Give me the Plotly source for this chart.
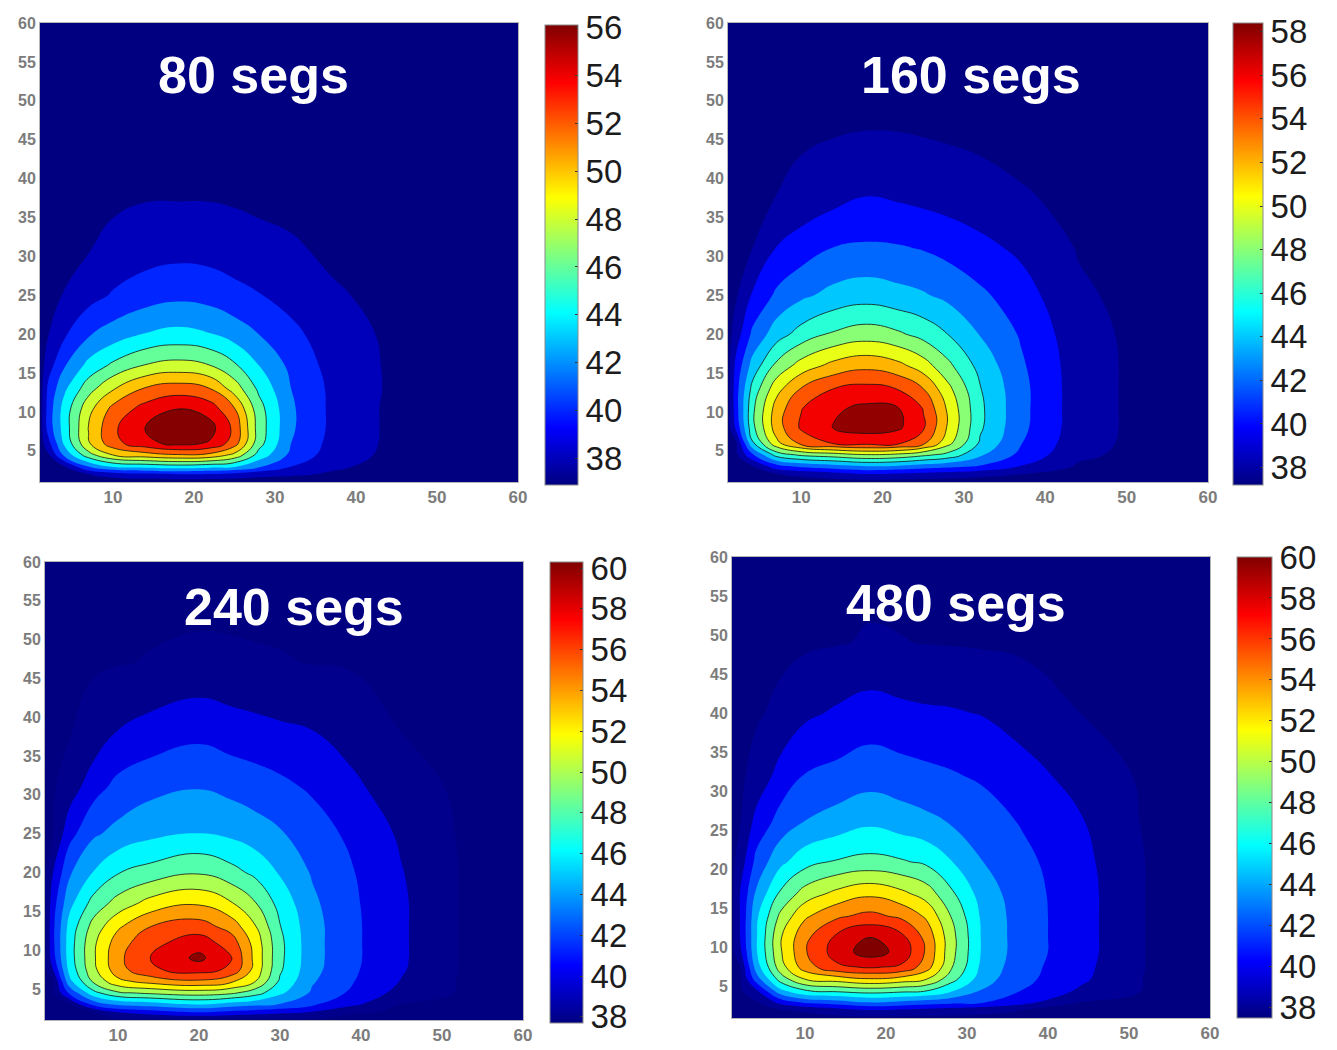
import plotly.graph_objects as go

# ---------------- data ----------------
TITLES = ["80 segs", "160 segs", "240 segs", "480 segs"]
X_TICKS = [10, 20, 30, 40, 50, 60]
Y_TICKS = [5, 10, 15, 20, 25, 30, 35, 40, 45, 50, 55, 60]

# panel 1 : 80 segs
X1 = [1, 2, 4, 7, 10, 14, 18, 22, 25, 28, 32, 37, 44, 52, 60]
Y1 = [1, 2, 3, 4.5, 6, 8, 10.5, 13, 16, 20, 25, 31, 38, 47, 60]
Z1 = [
    [36.9, 36.9, 36.9, 36.9, 36.9, 36.9, 36.9, 36.9, 36.9, 36.9, 36.9, 36.9, 36.9, 36.9, 36.9],
    [36.9, 37.1, 37.5, 38.0, 38.9, 39.6, 40.0, 39.8, 39.3, 38.7, 38.3, 37.8, 37.3, 37.0, 36.9],
    [36.9, 37.3, 37.9, 42.1, 44.3, 44.8, 45.2, 44.8, 44.3, 42.4, 40.0, 38.3, 37.5, 37.1, 36.9],
    [36.9, 37.7, 42.5, 47.3, 50.1, 51.2, 51.9, 51.5, 49.5, 45.3, 41.5, 39.1, 37.6, 37.2, 36.9],
    [36.9, 39.3, 44.4, 49.8, 53.3, 55.4, 56.7, 55.8, 53.0, 46.8, 42.0, 39.4, 37.7, 37.2, 36.9],
    [36.9, 40.8, 44.9, 50.1, 53.6, 56.1, 57.9, 56.7, 53.5, 47.1, 42.3, 39.6, 37.7, 37.2, 36.9],
    [36.9, 40.8, 44.8, 49.3, 52.5, 54.7, 55.9, 55.0, 52.0, 46.8, 42.3, 39.6, 37.7, 37.2, 36.9],
    [36.9, 40.4, 43.6, 47.2, 49.8, 52.2, 53.0, 52.0, 49.1, 45.6, 42.0, 39.6, 37.8, 37.3, 36.9],
    [36.9, 39.1, 41.8, 44.6, 46.4, 48.1, 48.7, 48.0, 46.3, 44.0, 41.5, 39.3, 37.8, 37.3, 36.9],
    [36.9, 37.9, 39.7, 41.8, 42.9, 44.1, 44.6, 44.1, 43.1, 42.0, 40.5, 39.0, 37.7, 37.3, 36.9],
    [36.9, 37.3, 38.1, 39.2, 40.2, 41.0, 41.5, 41.2, 40.6, 40.1, 39.3, 38.2, 37.6, 37.2, 36.9],
    [36.9, 37.1, 37.4, 37.9, 38.5, 39.1, 39.3, 39.2, 38.9, 38.5, 38.2, 37.7, 37.4, 37.1, 36.9],
    [36.9, 37.0, 37.2, 37.5, 37.6, 37.8, 37.8, 37.8, 37.7, 37.6, 37.5, 37.3, 37.2, 37.0, 36.9],
    [36.9, 37.0, 37.0, 37.2, 37.2, 37.3, 37.3, 37.3, 37.2, 37.2, 37.2, 37.1, 37.0, 37.0, 36.9],
    [36.9, 36.9, 36.9, 36.9, 36.9, 36.9, 36.9, 36.9, 36.9, 36.9, 36.9, 36.9, 36.9, 36.9, 36.9],
]
CB1_RANGE = [36.9, 56.1]
CB1_TICKS = [38, 40, 42, 44, 46, 48, 50, 52, 54, 56]

# panel 2 : 160 segs
X2 = [1, 2, 4, 7, 10, 14, 18, 22, 25, 28, 32, 37, 44, 52, 60]
Y2 = [1, 2, 3, 4.5, 6, 8, 10.5, 13, 16, 20, 25, 31, 38, 47, 60]
Z2 = [
    [37.2, 37.2, 37.2, 37.2, 37.2, 37.2, 37.2, 37.2, 37.2, 37.2, 37.2, 37.2, 37.2, 37.2, 37.2],
    [37.2, 37.3, 37.5, 37.9, 38.4, 39.1, 39.9, 39.6, 39.3, 39.0, 38.5, 38.0, 37.7, 37.4, 37.2],
    [37.2, 37.4, 37.8, 41.2, 42.4, 43.2, 43.9, 43.6, 43.0, 42.5, 41.8, 39.9, 37.8, 37.4, 37.2],
    [37.2, 37.6, 41.7, 46.9, 48.4, 49.1, 49.9, 49.5, 48.5, 47.4, 44.3, 41.5, 38.4, 37.4, 37.2],
    [37.2, 37.9, 45.7, 51.5, 54.6, 56.2, 56.7, 56.3, 54.5, 50.7, 45.7, 42.1, 38.8, 37.4, 37.2],
    [37.2, 40.5, 47.4, 53.1, 56.3, 58.1, 58.8, 58.3, 56.3, 51.8, 46.3, 42.5, 39.0, 37.4, 37.2],
    [37.2, 41.2, 47.5, 52.9, 55.9, 57.7, 58.4, 58.0, 55.9, 51.7, 46.4, 42.6, 39.0, 37.4, 37.2],
    [37.2, 41.2, 46.6, 51.3, 54.1, 56.0, 56.6, 55.9, 54.0, 50.6, 46.1, 42.6, 39.0, 37.4, 37.2],
    [37.2, 40.6, 44.7, 48.5, 50.8, 52.6, 53.4, 52.5, 50.9, 48.5, 45.3, 42.3, 39.0, 37.4, 37.2],
    [37.2, 39.0, 42.4, 45.1, 46.8, 48.3, 49.0, 48.3, 47.3, 46.0, 43.9, 41.8, 38.8, 37.4, 37.2],
    [37.2, 37.8, 40.2, 42.4, 43.6, 44.6, 45.1, 44.6, 44.2, 43.5, 42.4, 40.9, 38.3, 37.4, 37.2],
    [37.2, 37.4, 38.0, 40.1, 41.0, 42.1, 42.3, 42.2, 41.9, 41.4, 40.6, 39.6, 37.9, 37.4, 37.2],
    [37.2, 37.3, 37.6, 38.0, 38.5, 39.2, 39.9, 39.6, 39.3, 39.0, 38.6, 38.1, 37.7, 37.4, 37.2],
    [37.2, 37.3, 37.4, 37.5, 37.6, 37.7, 37.8, 37.8, 37.7, 37.6, 37.5, 37.5, 37.4, 37.3, 37.2],
    [37.2, 37.2, 37.2, 37.2, 37.2, 37.2, 37.2, 37.2, 37.2, 37.2, 37.2, 37.2, 37.2, 37.2, 37.2],
]
CB2_RANGE = [37.2, 58.4]
CB2_TICKS = [38, 40, 42, 44, 46, 48, 50, 52, 54, 56, 58]

# panel 3 : 240 segs
X3 = [1, 2, 4, 7, 10, 14, 20, 24, 27, 30, 34, 39, 45, 52, 60]
Y3 = [1, 2, 3, 4.5, 6, 7.5, 9, 11, 13, 16, 20, 25, 31, 38, 47, 53, 60]
Z3 = [
    [37.7, 37.7, 37.7, 37.7, 37.7, 37.7, 37.7, 37.7, 37.7, 37.7, 37.7, 37.7, 37.7, 37.7, 37.7],
    [37.7, 37.7, 37.8, 38.0, 40.0, 40.9, 42.0, 41.4, 41.0, 40.5, 39.9, 38.1, 37.9, 37.8, 37.7],
    [37.7, 37.8, 37.9, 42.5, 44.3, 45.0, 46.0, 45.1, 44.5, 43.9, 42.3, 40.4, 38.0, 37.9, 37.7],
    [37.7, 37.9, 42.3, 47.4, 49.7, 50.4, 51.0, 50.4, 48.9, 46.4, 43.7, 41.6, 39.3, 37.9, 37.7],
    [37.7, 37.9, 45.4, 50.4, 53.5, 54.8, 55.7, 54.4, 52.0, 47.7, 44.2, 42.1, 39.9, 37.9, 37.7],
    [37.7, 40.0, 46.6, 51.5, 55.2, 57.7, 58.9, 57.6, 53.2, 48.3, 44.6, 42.3, 40.2, 38.0, 37.7],
    [37.7, 41.2, 47.0, 51.7, 55.5, 58.0, 60.5, 58.1, 53.3, 48.5, 44.7, 42.4, 40.3, 38.0, 37.7],
    [37.7, 41.6, 47.0, 51.6, 55.0, 57.4, 59.0, 57.0, 53.1, 48.5, 44.7, 42.4, 40.3, 38.0, 37.7],
    [37.7, 41.6, 46.7, 50.8, 53.7, 56.0, 57.0, 55.2, 52.1, 48.1, 44.7, 42.4, 40.3, 38.0, 37.7],
    [37.7, 41.2, 45.4, 48.8, 50.8, 52.8, 53.8, 52.2, 50.1, 47.3, 44.4, 42.3, 40.3, 38.0, 37.7],
    [37.7, 40.0, 43.7, 46.1, 47.9, 48.8, 49.8, 48.7, 47.5, 45.8, 43.8, 42.1, 40.1, 38.0, 37.7],
    [37.7, 38.0, 41.3, 43.7, 44.6, 45.5, 46.1, 45.6, 44.9, 44.2, 43.0, 41.5, 39.7, 37.9, 37.7],
    [37.7, 37.8, 38.9, 41.2, 42.6, 43.4, 43.9, 43.4, 43.0, 42.5, 41.7, 40.5, 38.6, 37.8, 37.7],
    [37.7, 37.8, 37.9, 38.7, 40.1, 40.8, 41.5, 41.0, 40.7, 40.4, 40.1, 39.0, 38.0, 37.8, 37.7],
    [37.7, 37.7, 37.75, 37.8, 37.9, 38.1, 38.5, 38.35, 38.2, 38.1, 37.95, 37.85, 37.8, 37.75, 37.7],
    [37.7, 37.7, 37.7, 37.72, 37.74, 37.75, 37.76, 37.76, 37.75, 37.75, 37.74, 37.72, 37.71, 37.7, 37.7],
    [37.7, 37.7, 37.7, 37.7, 37.7, 37.7, 37.7, 37.7, 37.7, 37.7, 37.7, 37.7, 37.7, 37.7, 37.7],
]
CB3_RANGE = [37.7, 60.3]
CB3_TICKS = [38, 40, 42, 44, 46, 48, 50, 52, 54, 56, 58, 60]

# panel 4 : 480 segs
X4 = [1, 2, 4, 7, 10, 14, 18, 22, 25, 28, 32, 37, 44, 52, 60]
Y4 = [1, 2, 3, 4.5, 6, 7.5, 9.5, 11.5, 14, 17, 21, 26, 32, 40, 49, 60]
Z4 = [
    [37.5, 37.5, 37.5, 37.5, 37.5, 37.5, 37.5, 37.5, 37.5, 37.5, 37.5, 37.5, 37.5, 37.5, 37.5],
    [37.5, 37.6, 37.7, 37.9, 38.2, 39.1, 39.9, 39.6, 39.3, 39.0, 38.6, 38.0, 37.9, 37.7, 37.5],
    [37.5, 37.6, 37.8, 40.6, 42.4, 43.1, 44.0, 43.5, 43.0, 42.6, 42.1, 40.6, 38.0, 37.8, 37.5],
    [37.5, 37.7, 39.6, 45.5, 47.9, 48.5, 49.0, 48.6, 48.1, 46.3, 43.8, 41.9, 39.7, 37.9, 37.5],
    [37.5, 37.8, 43.0, 49.0, 52.1, 53.0, 53.9, 53.2, 52.1, 48.9, 44.8, 42.5, 40.4, 37.9, 37.5],
    [37.5, 38.0, 44.9, 51.1, 55.0, 57.6, 58.2, 57.6, 54.9, 50.3, 45.3, 42.7, 40.6, 38.0, 37.5],
    [37.5, 39.5, 45.8, 51.8, 55.8, 59.0, 61.0, 59.3, 55.7, 50.8, 45.6, 42.9, 40.8, 38.0, 37.5],
    [37.5, 40.0, 45.8, 51.8, 55.4, 58.3, 59.9, 58.3, 55.3, 50.8, 45.6, 42.9, 40.8, 38.0, 37.5],
    [37.5, 40.0, 45.6, 50.5, 53.7, 55.7, 56.6, 55.6, 53.7, 50.0, 45.5, 42.9, 40.8, 38.0, 37.5],
    [37.5, 40.0, 44.3, 48.3, 50.8, 52.5, 53.5, 52.4, 51.0, 48.4, 45.0, 42.8, 40.8, 38.0, 37.5],
    [37.5, 38.9, 42.6, 45.5, 47.2, 48.2, 48.6, 48.2, 47.6, 46.1, 44.0, 42.5, 40.6, 38.0, 37.5],
    [37.5, 37.9, 40.7, 42.8, 44.1, 44.9, 45.7, 45.0, 44.5, 43.9, 43.0, 41.8, 40.2, 37.8, 37.5],
    [37.5, 37.7, 38.6, 40.8, 42.1, 42.6, 43.1, 42.8, 42.5, 42.2, 41.7, 40.8, 39.2, 37.7, 37.5],
    [37.5, 37.6, 37.8, 38.4, 39.6, 40.3, 40.9, 40.5, 40.3, 40.2, 39.9, 39.0, 38.0, 37.7, 37.5],
    [37.5, 37.5, 37.55, 37.6, 37.7, 37.9, 38.15, 38.05, 37.95, 37.9, 37.8, 37.7, 37.6, 37.55, 37.5],
    [37.5, 37.5, 37.5, 37.5, 37.5, 37.5, 37.5, 37.5, 37.5, 37.5, 37.5, 37.5, 37.5, 37.5, 37.5],
]
CB4_RANGE = [37.5, 60.0]
CB4_TICKS = [38, 40, 42, 44, 46, 48, 50, 52, 54, 56, 58, 60]

# contour levels (start, end, step) and first level drawn with a black line
LEVELS = [(38, 56, 2), (38, 58, 2), (38, 60, 2), (38, 60, 2)]
LINE_START = [46, 46, 48, 48]

# ---------------- styling / geometry ----------------
W, H = 1337, 1050
FONT = "Liberation Sans, Arial, Helvetica, sans-serif"

# plot boxes in pixels (left, right, top, bottom)
BOXES = [(40, 518, 23, 482), (728, 1208, 23, 482), (45, 523, 562, 1020), (732, 1210, 557, 1018)]
CBOXES = [(545, 578, 25, 485), (1233, 1263, 23, 485), (550, 583, 562, 1023), (1237, 1272, 557, 1018)]
TITLE_POS = [(254, 75), (971, 75), (294, 607), (956, 603)]


def jet(t):
    t = min(max(t, 0.0), 1.0)

    def c(v):
        return min(max(v, 0.0), 1.0)
    r = c(1.5 - abs(4 * t - 3))
    g = c(1.5 - abs(4 * t - 2))
    b = c(1.5 - abs(4 * t - 1))
    return "rgb(%d,%d,%d)" % (round(r * 255), round(g * 255), round(b * 255))


JET_CS = [[0.0, jet(0.0)], [0.125, jet(0.125)], [0.375, jet(0.375)],
          [0.625, jet(0.625)], [0.875, jet(0.875)], [1.0, jet(1.0)]]

DATA = [(X1, Y1, Z1, CB1_RANGE, CB1_TICKS), (X2, Y2, Z2, CB2_RANGE, CB2_TICKS),
        (X3, Y3, Z3, CB3_RANGE, CB3_TICKS), (X4, Y4, Z4, CB4_RANGE, CB4_TICKS)]

fig = go.Figure()
layout = dict(width=W, height=H, margin=dict(l=0, r=0, t=0, b=0, autoexpand=False),
              autosize=False, paper_bgcolor="white", plot_bgcolor="white",
              showlegend=False, annotations=[])

for i, (X, Y, Z, cbr, cbt) in enumerate(DATA):
    n = "" if i == 0 else str(i + 1)
    xa, ya = "x" + n, "y" + n
    start, end, step = LEVELS[i]
    levels = list(range(start, end + 1, step))
    nc = len(levels)
    cmin, cmax = cbr
    band_vals = [cmin] + levels
    fill_cs = [[j / nc, jet((v - cmin) / (cmax - cmin))] for j, v in enumerate(band_vals)]

    fig.add_trace(go.Contour(
        x=X, y=Y, z=Z, xaxis=xa, yaxis=ya, autocontour=False,
        contours=dict(start=start, end=end, size=step, coloring="fill", showlines=False),
        line=dict(width=0, smoothing=1.3), colorscale=fill_cs, showscale=False,
        hoverinfo="skip"))
    fig.add_trace(go.Contour(
        x=X, y=Y, z=Z, xaxis=xa, yaxis=ya, autocontour=False,
        contours=dict(start=LINE_START[i], end=end, size=step, coloring="none", showlines=True),
        line=dict(width=1, color="rgba(20,20,20,0.8)", smoothing=1.3), showscale=False,
        hoverinfo="skip"))

    cl, cr, ct, cb = CBOXES[i]
    fig.add_trace(go.Scatter(
        x=[None], y=[None], mode="markers", xaxis=xa, yaxis=ya, hoverinfo="skip",
        showlegend=False,
        marker=dict(colorscale=JET_CS, cmin=cmin, cmax=cmax, color=[cmin], showscale=True,
                    colorbar=dict(
                        x=cl / W, xanchor="left", y=1 - (ct + cb) / 2 / H, yanchor="middle",
                        len=cb - ct, lenmode="pixels", thickness=cr - cl, thicknessmode="pixels",
                        xpad=0, ypad=0, outlinewidth=1, outlinecolor="#8a8a8a",
                        tickmode="array", tickvals=cbt, ticktext=[str(t) for t in cbt],
                        ticks="inside", ticklen=3, tickcolor="#333333", tickwidth=1,
                        tickfont=dict(family=FONT, size=33, color="#1c1c1c")))))

    l, r, t, b = BOXES[i]
    layout["xaxis" + n] = dict(
        domain=[l / W, r / W], range=[1, 60], anchor=ya, tickmode="array", tickvals=X_TICKS,
        showgrid=False, zeroline=False, showline=True, mirror=True, linecolor="#b5b5b5",
        linewidth=1, ticks="", automargin=False,
        tickfont=dict(family=FONT, size=17, color="#7c7c7c", weight="bold"), fixedrange=True)
    layout["yaxis" + n] = dict(
        domain=[1 - b / H, 1 - t / H], range=[1, 60], anchor=xa, tickmode="array",
        tickvals=Y_TICKS, showgrid=False, zeroline=False, showline=True, mirror=True,
        linecolor="#b5b5b5", linewidth=1, ticks="", automargin=False,
        tickfont=dict(family=FONT, size=16, color="#7c7c7c", weight="bold"), fixedrange=True)

    tx, ty = TITLE_POS[i]
    layout["annotations"].append(dict(
        x=tx / W, y=1 - ty / H, xref="paper", yref="paper", showarrow=False,
        xanchor="center", yanchor="middle", text="<b>%s</b>" % TITLES[i],
        font=dict(family=FONT, size=52, color="white")))

fig.update_layout(**layout)
fig.write_html("out.html")
